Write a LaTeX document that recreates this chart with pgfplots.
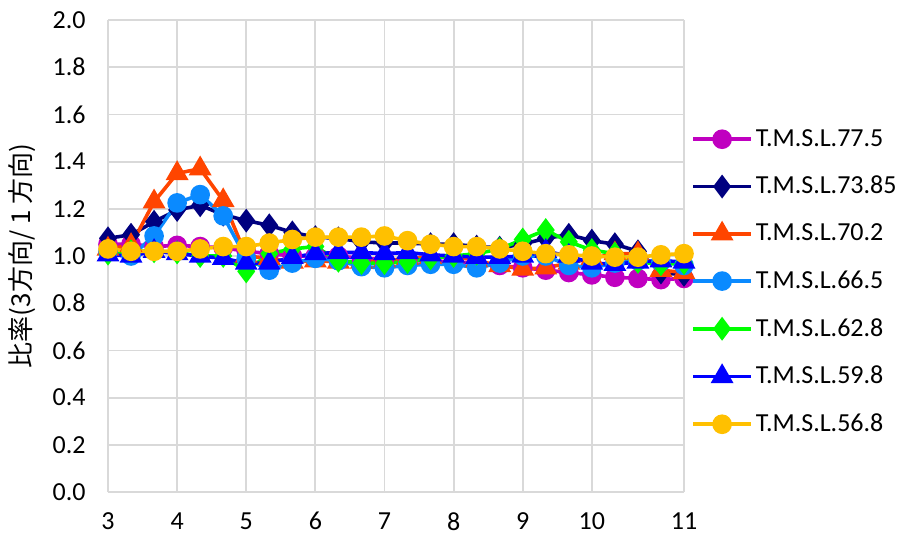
\documentclass[border=0pt]{standalone}
\usepackage{fontspec}
\setmainfont{Carlito}
\newfontfamily\cjk{Noto Sans CJK JP}
\usepackage{pgfplots}
\pgfplotsset{compat=1.18}
\usepackage{pgfplotstable}

\definecolor{cMag}{HTML}{C000C0}
\definecolor{cNavy}{HTML}{000080}
\definecolor{cOrg}{HTML}{FF4500}
\definecolor{cSky}{HTML}{0A8AFF}
\definecolor{cGrn}{HTML}{00FF00}
\definecolor{cBlu}{HTML}{0000FF}
\definecolor{cYel}{HTML}{FFC000}

% i: point index (26 points, labels 3..11)
\pgfplotstableread{
i  m77   m73   m70   m66   m62   m59   m56
0  1.05  1.075 1.03  1.02  1.01  1.005 1.03
1  1.05  1.09  1.045 1.00  1.02  1.00  1.02
2  1.04  1.145 1.23  1.085 1.02  1.02  1.02
3  1.045 1.195 1.35  1.225 1.015 1.01  1.02
4  1.04  1.215 1.37  1.26  1.00  1.00  1.03
5  1.035 1.175 1.235 1.17  1.00  0.99  1.04
6  1.02  1.15  1.00  0.99  0.935 0.97  1.04
7  1.01  1.13  0.99  0.94  1.01  0.97  1.055
8  1.00  1.10  0.975 0.97  1.03  0.995 1.07
9  1.00  1.08  0.98  0.99  1.04  1.01  1.08
10 1.00  1.075 0.975 0.98  0.98  1.015 1.08
11 0.99  1.06  0.975 0.955 0.97  1.015 1.08
12 0.985 1.055 0.98  0.95  0.97  1.01  1.085
13 0.98  1.055 0.99  0.96  0.975 1.015 1.065
14 0.98  1.05  0.995 0.965 0.99  1.005 1.05
15 0.975 1.05  1.00  0.965 1.00  1.00  1.04
16 0.97  1.04  0.98  0.95  1.01  0.995 1.04
17 0.96  1.035 0.96  0.97  1.03  0.995 1.03
18 0.95  1.05  0.945 1.00  1.07  1.00  1.02
19 0.94  1.075 0.95  1.00  1.11  1.02  1.01
20 0.93  1.09  0.97  0.96  1.06  1.00  1.005
21 0.92  1.065 0.99  0.95  1.025 0.97  1.00
22 0.91  1.05  1.01  0.97  1.01  0.965 0.995
23 0.905 1.02  1.01  0.98  0.975 0.975 0.995
24 0.90  0.93  0.94  0.975 0.965 0.98  1.005
25 0.905 0.92  0.93  0.96  0.97  0.975 1.01
}\data

\begin{document}
\begin{tikzpicture}
\useasboundingbox (0,0) rectangle (452pt,271.5pt);
\begin{axis}[
    at={(54pt,25.5pt)}, anchor=south west,
    scale only axis,
    width=288pt, height=236pt,
    font=\fontsize{13}{15.5}\selectfont,
    xmin=0, xmax=25, ymin=0, ymax=2,
    xtick={0,3,6,9,12,15,18,21,25},
    xticklabels={3,4,5,6,7,8,9,10,11},
    ytick distance=0.2,
    /pgf/number format/assume math mode=true,
    xticklabel style={inner sep=0pt, yshift=-10pt},
    yticklabel style={inner sep=0pt, xshift=-11pt,
        /pgf/number format/fixed, /pgf/number format/fixed zerofill,
        /pgf/number format/precision=1},
    major tick length=0pt,
    grid=major,
    grid style={draw=black!15, line width=0.9pt},
    axis line style={draw=none},
    ylabel={\cjk 比率(3方向/ 1 方向)},
    ylabel style={at={(rel axis cs:0,0.5)}, anchor=center, yshift=43pt, inner sep=0pt},
    every axis plot/.append style={line width=1.8pt},
    legend style={at={(1.012,0.445)}, anchor=west, draw=none, fill=none,
        row sep=10.5pt, inner sep=0pt, nodes={inner sep=1.5pt},
        font=\fontsize{13}{15.5}\selectfont},
    legend cell align=left,
    legend image code/.code={\draw[mark repeat=2,mark phase=2,#1]
        plot coordinates {(0pt,0pt) (14.5pt,0pt) (29pt,0pt)};},
]
\addplot[color=cMag, mark=*, mark size=4pt] table[x=i,y=m77] {\data};
\addlegendentry{T.M.S.L.77.5}
\addplot[color=cNavy, mark=diamond*, mark size=4.5pt] table[x=i,y=m73] {\data};
\addlegendentry{T.M.S.L.73.85}
\addplot[color=cOrg, mark=triangle*, mark size=4.8pt] table[x=i,y=m70] {\data};
\addlegendentry{T.M.S.L.70.2}
\addplot[color=cSky, mark=*, mark size=4pt] table[x=i,y=m66] {\data};
\addlegendentry{T.M.S.L.66.5}
\addplot[color=cGrn, mark=diamond*, mark size=4.5pt] table[x=i,y=m62] {\data};
\addlegendentry{T.M.S.L.62.8}
\addplot[color=cBlu, mark=triangle*, mark size=4.8pt] table[x=i,y=m59] {\data};
\addlegendentry{T.M.S.L.59.8}
\addplot[color=cYel, mark=*, mark size=4pt] table[x=i,y=m56] {\data};
\addlegendentry{T.M.S.L.56.8}
\end{axis}
\end{tikzpicture}
\end{document}
